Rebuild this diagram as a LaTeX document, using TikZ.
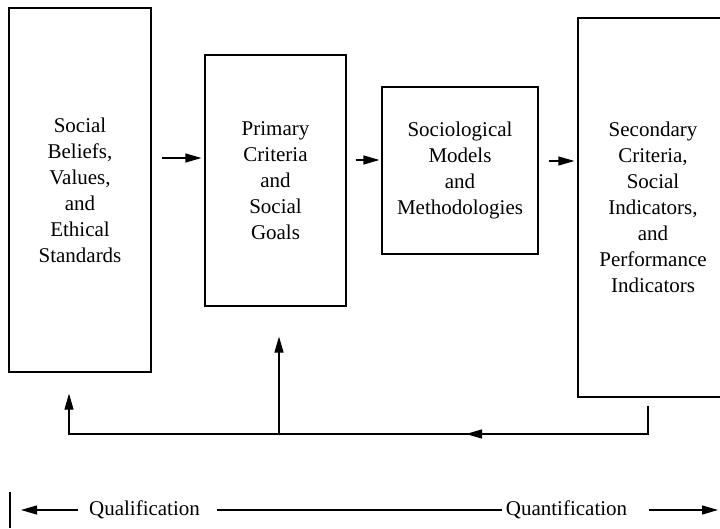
\documentclass[tikz,border=0pt]{standalone}
\usepackage{fontspec}
\setmainfont{Liberation Serif}
\usetikzlibrary{arrows.meta,calc}
\begin{document}
\begin{tikzpicture}[x=1pt,y=-1pt,
  boxnode/.style={draw, line width=1.2pt, inner sep=0pt, align=center,
    font=\fontsize{21}{26}\selectfont},
  lbl/.style={inner sep=0pt, font=\fontsize{21}{26}\selectfont},
  conn/.style={line width=1.2pt},
  arr/.style={line width=1.2pt, -{Triangle[length=16pt,width=9pt]}}]
\useasboundingbox (0,0) rectangle (720,529);
\clip (0,0) rectangle (720,529);
\fill[white] (0,0) rectangle (720,529);
% boxes
\node[boxnode, minimum width=142pt, minimum height=364pt] (box1) at (80,190)
  {Social\\Beliefs,\\Values,\\and\\Ethical\\Standards};
\node[boxnode, minimum width=141pt, minimum height=251pt] (box2) at (275.5,180.5)
  {Primary\\Criteria\\and\\Social\\Goals};
\node[boxnode, minimum width=156pt, minimum height=167pt] (box3) at (460,170.5)
  {Sociological\\Models\\and\\Methodologies};
\node[boxnode, minimum width=150pt, minimum height=379pt] (box4) at (653,207.5)
  {Secondary\\Criteria,\\Social\\Indicators,\\and\\Performance\\Indicators};
% forward arrows
\coordinate (r1) at (0,158);
\coordinate (r2) at (0,160);
\coordinate (r3) at (0,161);
\draw[arr, shorten <=10pt, shorten >=3pt] (box1.east |- r1) -- (box2.west |- r1);
\draw[arr, shorten <=9pt, shorten >=2pt] (box2.east |- r2) -- (box3.west |- r2);
\draw[arr, shorten <=10pt, shorten >=3pt] (box3.east |- r3) -- (box4.west |- r3);
% feedback loop
\coordinate (fbx) at (648,0);
\coordinate (fby) at (0,434);
\coordinate (lx) at (69,0);
\coordinate (mx) at (279,0);
\coordinate (ah) at (466,434);
\draw[conn, shorten <=8pt] (box4.south -| fbx) -- (fbx |- fby) -- (ah);
\draw[arr] (fbx |- fby) -- (ah);
\draw[arr] (ah) -- (lx |- fby) -- ($(lx |- box1.south)+(0,21)$);
\draw[arr] (mx |- fby) -- ($(mx |- box2.south)+(0,30)$);
% bottom scale
\coordinate (barT) at (10,492);
\coordinate (barB) at (10,528);
\coordinate (barM) at (10,510);
\coordinate (endR) at (718,510);
\draw[conn] (barT) -- (barB);
\node[lbl] (qual) at (144.5,510) {Qualification};
\node[lbl] (quant) at (566.5,510) {Quantification};
\draw[arr, shorten <=11pt, shorten >=11pt] (qual.west |- barM) -- (barM);
\draw[conn, shorten <=17pt, shorten >=4pt] (qual.east |- barM) -- (quant.west |- barM);
\draw[arr, shorten <=22pt] (quant.east |- barM) -- (endR);
\end{tikzpicture}
\end{document}
